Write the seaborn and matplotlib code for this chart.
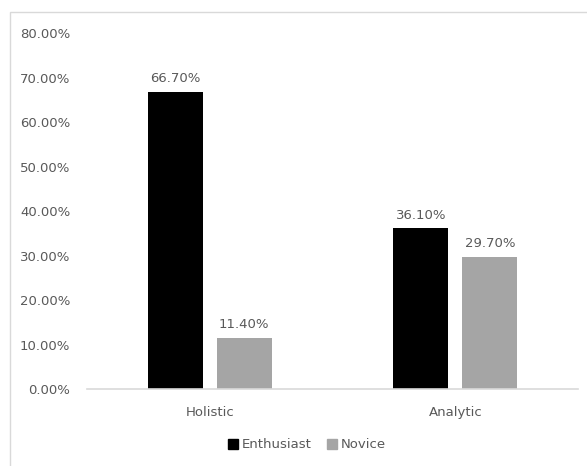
import pandas as pd
import matplotlib
matplotlib.use('Agg')
import matplotlib.pyplot as plt
import seaborn as sns
from matplotlib.patches import Rectangle
from matplotlib.ticker import PercentFormatter

styles = ['Holistic', 'Analytic']
groups = ['Enthusiast', 'Novice']
enthusiast = [0.667, 0.361]
novice = [0.114, 0.297]
colors = ['#000000', '#A5A5A5']
text_color = '#595959'

df = pd.DataFrame({
    'style': styles * 2,
    'group': [groups[0]] * len(styles) + [groups[1]] * len(styles),
    'value': enthusiast + novice,
})

sns.set_style('white')
plt.rcParams['font.family'] = ['DejaVu Sans']

fig = plt.figure(figsize=(5.87, 4.66), dpi=100)
ax = fig.add_axes([0.148, 0.165, 0.837, 0.764])

sns.barplot(data=df, x='style', y='value', hue='group', order=styles, hue_order=groups,
            palette=colors, width=0.562, gap=0.203, ax=ax, legend=False,
            edgecolor='none', linewidth=0)

for cont in ax.containers:
    ax.bar_label(cont, labels=[f'{v * 100:.2f}%' for v in cont.datavalues],
                 padding=5, color=text_color, fontsize=9.5)

ax.set_ylim(0, 0.8)
ax.set_xlim(-0.5, 1.5)
ax.yaxis.set_major_formatter(PercentFormatter(xmax=1, decimals=2))
ax.set_yticks([i / 10 for i in range(9)])
ax.set_xlabel('')
ax.set_ylabel('')
ax.tick_params(axis='both', length=0, labelsize=9.5, labelcolor=text_color)
ax.tick_params(axis='y', pad=12)
ax.tick_params(axis='x', pad=12)

for side in ['top', 'right', 'left']:
    ax.spines[side].set_visible(False)
ax.spines['bottom'].set_color('#D9D9D9')
ax.spines['bottom'].set_linewidth(1.2)

handles = [Rectangle((0, 0), 1, 1, color=c) for c in colors]
fig.legend(handles, groups, loc='center', bbox_to_anchor=(307 / 587, 1 - 445 / 466), ncol=2,
           frameon=False, handlelength=0.7, handleheight=0.7, handletextpad=0.3,
           columnspacing=1.2, fontsize=9.5, labelcolor=text_color)

fig.patches.append(Rectangle((10 / 587, -0.01), 1.0, 1 - 12 / 466 + 0.01,
                             transform=fig.transFigure, fill=False,
                             edgecolor='#D9D9D9', linewidth=1))

fig.savefig('out.png', dpi=100, facecolor='white')
